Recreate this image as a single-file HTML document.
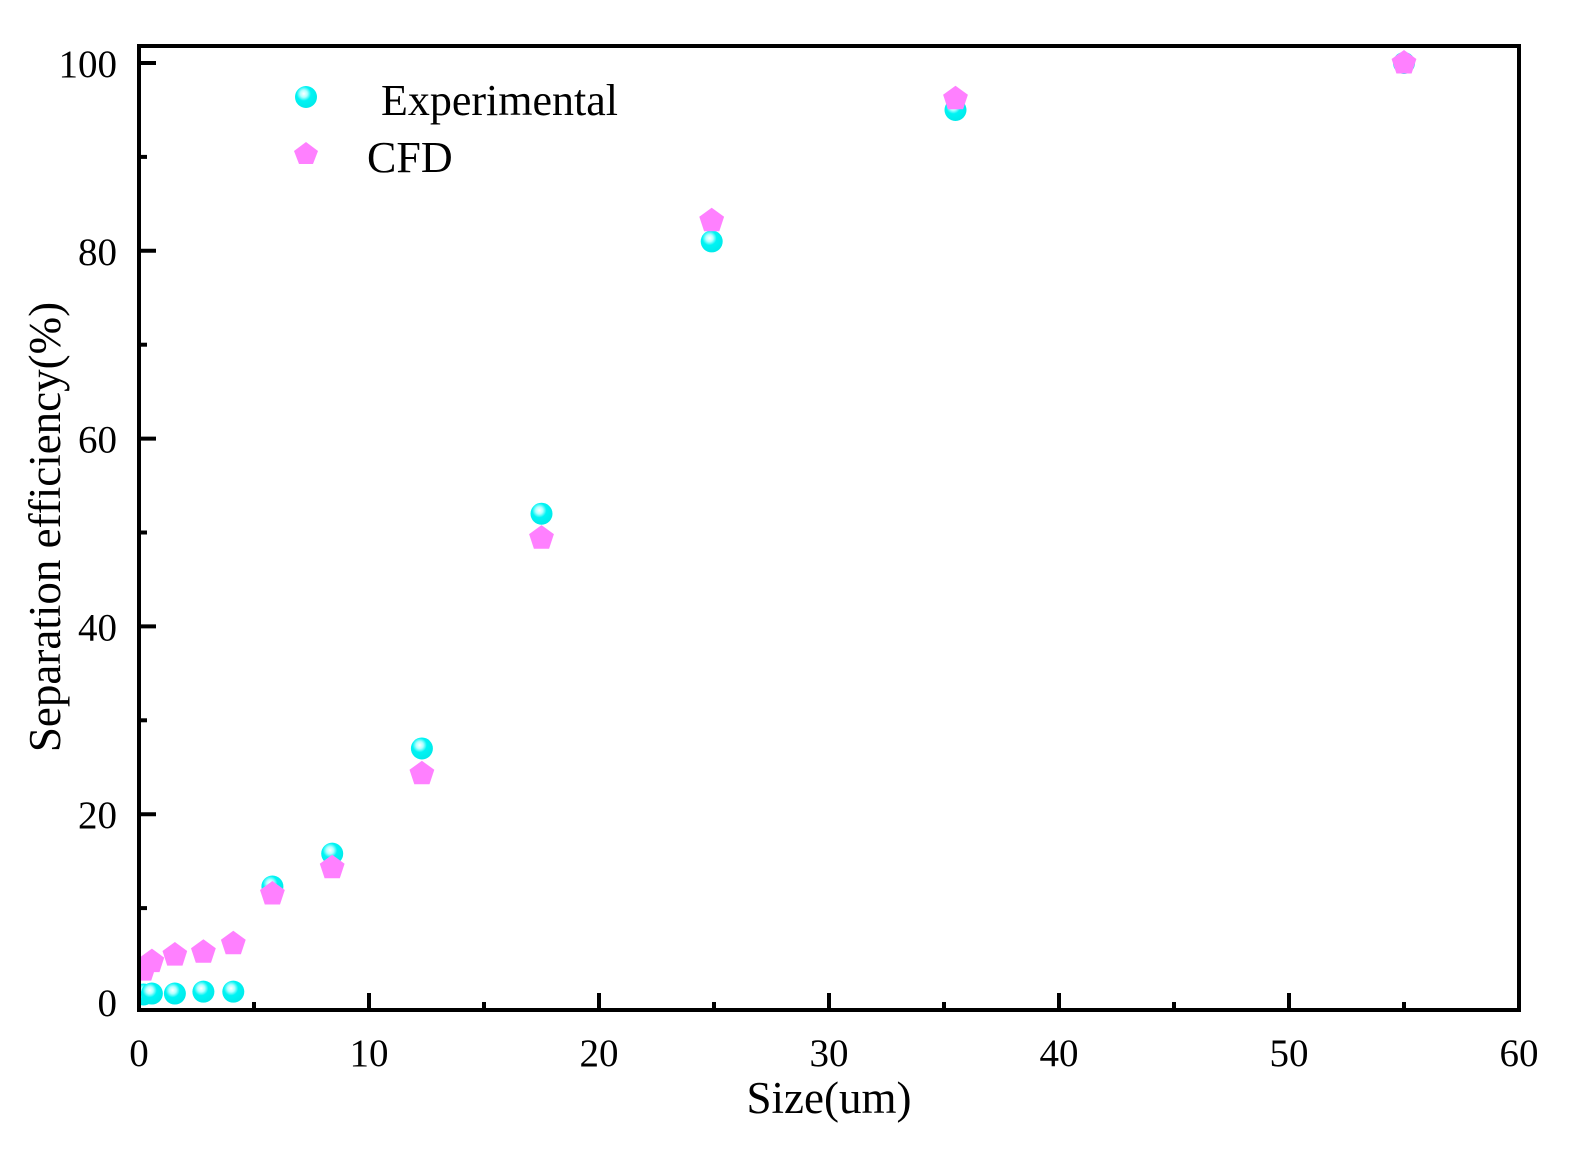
<!DOCTYPE html>
<html><head><meta charset="utf-8"><style>
body{margin:0;background:#fff;}
svg text{font-family:"Liberation Serif",serif;fill:#000;}
</style></head><body>
<svg id="chart" width="1577" height="1146">
<defs>
<radialGradient id="sph" cx="0.4" cy="0.35" r="0.65">
<stop offset="0" stop-color="#ffffff"/><stop offset="0.25" stop-color="#b0ffff"/><stop offset="0.5" stop-color="#00f4f4"/><stop offset="1" stop-color="#00eaea"/>
</radialGradient>
<clipPath id="pc"><rect x="139" y="46" width="1378" height="962"/></clipPath>
</defs>
<g id="axes"></g>
<g id="marks" clip-path="url(#pc)"></g>
<rect x="139" y="46" width="1380" height="964" fill="none" stroke="#000" stroke-width="4"/>
<text x="829" y="1113" font-size="45" text-anchor="middle">Size(um)</text>
<text transform="translate(60,527) rotate(-90)" font-size="45" text-anchor="middle">Separation efficiency(%)</text>
<g>
<circle cx="306" cy="97" r="11" fill="url(#sph)"/>
<text x="381" y="115" font-size="44">Experimental</text>
<polygon points="306,142 318,151 313,164 299,164 294,151" fill="#ff80ff"/>
<text x="367" y="172" font-size="44">CFD</text>
</g>
</svg>
<script>
const sizes=[0.2,0.56,1.56,2.8,4.1,5.8,8.4,12.3,17.5,24.9,35.5,55];
const experimental=[0.8,0.9,0.9,1.1,1.1,12.3,15.8,27,52,81,95,100];
const cfd=[3.4,4.3,5,5.3,6.2,11.5,14.3,24.3,49.4,83.2,96.2,100];
const xTicks=[0,10,20,30,40,50,60];
const yTicks=[0,20,40,60,80,100];
const NS="http://www.w3.org/2000/svg";
const X=v=>139+v*(1519-139)/60;
const Y=v=>1002-v*(1002-63)/100;
const axes=document.getElementById('axes'),marks=document.getElementById('marks');
function mk(t,a,p){const e=document.createElementNS(NS,t);for(const k in a)e.setAttribute(k,a[k]);p.appendChild(e);return e;}
for(let v=5;v<60;v+=5){const l=mk('line',{x1:X(v),x2:X(v),y1:1010,y2:v%10?1002:993,stroke:'#000','stroke-width':4},axes);

}
xTicks.forEach(v=>{const t=mk('text',{x:X(v),y:1066,'font-size':39,'text-anchor':'middle'},axes);t.textContent=v;

});
for(let v=10;v<=100;v+=10){const l=mk('line',{x1:139,x2:v%20?147:156,y1:Y(v),y2:Y(v),stroke:'#000','stroke-width':4},axes);

}
yTicks.forEach(v=>{const t=mk('text',{x:117,y:Y(v)+14,'font-size':39,'text-anchor':'end'},axes);t.textContent=v;

});
sizes.forEach((s,i)=>{const c=mk('circle',{cx:X(s),cy:Y(experimental[i]),r:11,fill:'url(#sph)'},marks);

});
sizes.forEach((s,i)=>{const cx=X(s),cy=Y(cfd[i]);let pts=[];for(let k=0;k<5;k++){const a=-Math.PI/2+k*2*Math.PI/5;pts.push((cx+13*Math.cos(a)).toFixed(1)+','+(cy+13*Math.sin(a)).toFixed(1));}
const p=mk('polygon',{points:pts.join(' '),fill:'#ff80ff'},marks);

});
</script>
</body></html>
